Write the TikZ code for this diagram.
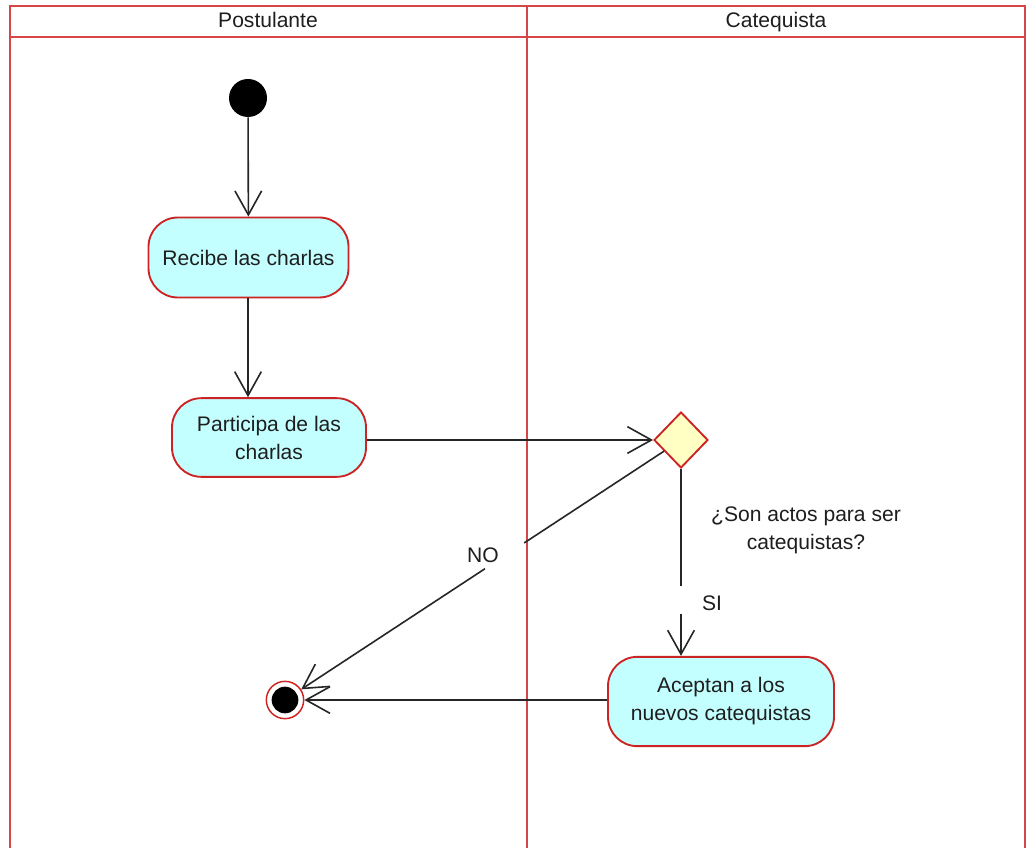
\documentclass[tikz,border=0pt]{standalone}
\usepackage{fontspec}
\setmainfont{Liberation Sans}
\usetikzlibrary{arrows.meta,shapes.geometric,calc}
\definecolor{poolred}{RGB}{214,70,70}
\definecolor{boxred}{RGB}{204,36,36}
\definecolor{actfill}{RGB}{196,255,255}
\definecolor{decfill}{RGB}{255,255,196}
\definecolor{txt}{RGB}{30,30,30}
\tikzset{
  activity/.style={draw=boxred, line width=1.4pt, fill=actfill, rounded corners=22pt,
    align=center, text=txt, font=\fontsize{15.8}{21}\selectfont, inner sep=0pt},
  line/.style={draw=black!85, line width=1.2pt},
  flow/.style={line, -{Straight Barb[length=18pt,width=20pt,line width=1.2pt]}},
  lbl/.style={text=txt, font=\fontsize{15.8}{21}\selectfont, align=center},
  head/.style={lbl, text height=11pt, text depth=3pt},
  pool/.style={draw=poolred, line width=1.1pt}
}
\begin{document}
\begin{tikzpicture}[x=0.75pt,y=-0.75pt]
\useasboundingbox (0,0) rectangle (1027,848);
\fill[white] (0,0) rectangle (1027,848);
\clip (0,0) rectangle (1027,848);
% pool
\draw[pool] (10,6) rectangle (1025,900);
\draw[pool] (10,37) -- (1025,37);
\draw[pool] (527,6) -- (527,900);
\node[head] (h1) at (268,22.5) {Postulante};
\node[head] (h2) at (776,22.5) {Catequista};
% nodes
\node[circle, fill=black, minimum size=28.5pt, inner sep=0pt] (ini) at (248,98) {};
\node[activity, minimum width=150pt, minimum height=60pt] (rec) at (248.5,257.5) {Recibe las charlas};
\node[activity, minimum width=145.5pt, minimum height=59pt] (par) at (269,437.5) {Participa de las\\charlas};
\node[diamond, draw=boxred, line width=1.4pt, fill=decfill, minimum width=40.5pt, minimum height=42pt, inner sep=0pt] (dia) at (681,440) {};
\node[activity, minimum width=169.5pt, minimum height=67pt] (ace) at (721,701.5) {Aceptan a los\\nuevos catequistas};
\node[circle, draw=boxred, line width=1.1pt, fill=white, minimum size=28pt, inner sep=0pt] (fin) at (285,700) {};
\node[circle, fill=black, minimum size=20pt, inner sep=0pt] (fincore) at (285,700) {};
% gap ends
\coordinate (noA) at ($(dia)!0.396!(fin)$);
\coordinate (noB) at ($(dia)!0.495!(fin)$);
\coordinate (siA) at (681,586);
\coordinate (siB) at (681,614);
% flows
\draw[flow] (ini) -- (rec);
\draw[flow] (rec.south -| ini) -- (par.north -| ini);
\draw[flow] (par.east |- dia) -- (dia.west);
\draw[line] (dia) -- (noA);
\draw[flow] (noB) -- (fin);
\draw[line] (dia.south) -- (siA);
\draw[flow] (siB) -- (ace.north -| dia);
\draw[flow] (ace.west |- fin) -- (fin);
% labels
\node[lbl] (no) at (483,555) {NO};
\node[lbl] (si) at (712,603) {SI};
\node[lbl] (q) at (806,530) {¿Son actos para ser\\catequistas?};
\end{tikzpicture}
\end{document}
